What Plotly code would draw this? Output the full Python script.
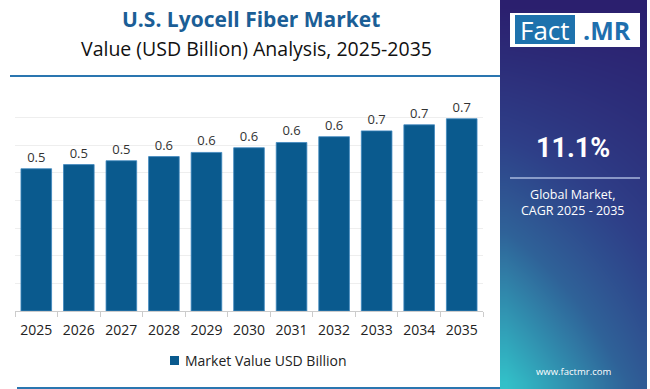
import plotly.graph_objects as go

years = ["2025", "2026", "2027", "2028", "2029", "2030", "2031", "2032", "2033", "2034", "2035"]
values = [0.515, 0.530, 0.544, 0.559, 0.574, 0.591, 0.610, 0.631, 0.652, 0.674, 0.696]
labels = ["0.5", "0.5", "0.5", "0.6", "0.6", "0.6", "0.6", "0.6", "0.7", "0.7", "0.7"]
series_name = "Market Value USD Billion"
title = "U.S. Lyocell Fiber Market"
subtitle = "Value (USD Billion) Analysis, 2025-2035"
cagr = "11.1%"

W, H = 650, 389
FONT = "Open Sans"
BAR = "#0a5a8e"


def px(x):
    return x / W


def py(y):
    return 1 - y / H


fig = go.Figure()

fig.add_trace(go.Bar(
    x=years, y=values, name=series_name,
    marker=dict(color=BAR, line=dict(color="#3f88bf", width=0.8)),
    width=0.72,
    text=labels, textposition="outside",
    textfont=dict(family=FONT, size=13, color="#333333"),
    cliponaxis=False, hoverinfo="skip", showlegend=False,
))

# decorative gradient panel on the right
nx, ny = 12, 30
z = []
for j in range(ny):
    yb = 1 - j / (ny - 1)
    row = []
    for i in range(nx):
        xn = i / (nx - 1)
        row.append(yb * (1 - 0.45 * xn))
    z.append(row)
fig.add_trace(go.Heatmap(
    z=z, xaxis="x2", yaxis="y2", zsmooth="best", showscale=False,
    colorscale=[[0, "#2b1f6e"], [0.35, "#2e3f88"], [0.6, "#2f6298"], [1, "#32c0c8"]],
    zmin=0, zmax=1, hoverinfo="skip", showlegend=False,
))

fig.update_layout(
    width=W, height=H,
    margin=dict(l=0, r=0, t=0, b=0),
    paper_bgcolor="white", plot_bgcolor="white",
    font=dict(family=FONT, color="#222222"),
    showlegend=False,
    xaxis=dict(
        domain=[px(15), px(483)], type="category",
        showline=True, linecolor="#cccccc", linewidth=1,
        ticks="outside", tickson="boundaries", ticklen=5, tickcolor="#cccccc",
        tickfont=dict(family=FONT, size=14, color="#222222"),
        ticklabelstandoff=6,
        showgrid=False, automargin=False, fixedrange=True,
    ),
    yaxis=dict(
        domain=[py(311), py(90)], range=[0, 0.8], dtick=0.1,
        showticklabels=False, showgrid=True, gridcolor="#eeeeee", gridwidth=1,
        zeroline=False, automargin=False, fixedrange=True,
    ),
    xaxis2=dict(domain=[px(500), px(647)], visible=False, range=[-0.5, nx - 0.5], fixedrange=True, anchor="y2"),
    yaxis2=dict(domain=[0, 1], visible=False, range=[-0.5, ny - 0.5], fixedrange=True, anchor="x2"),
)

shapes = []
shapes.append(dict(type="line", xref="paper", yref="paper", x0=px(10), x1=px(500), y0=py(76), y1=py(76),
                   line=dict(color="#2a76b0", width=2)))
shapes.append(dict(type="line", xref="paper", yref="paper", x0=px(17), x1=px(500), y0=py(388), y1=py(388),
                   line=dict(color="#2a76b0", width=2)))
shapes.append(dict(type="rect", xref="paper", yref="paper", x0=px(510), x1=px(640), y0=py(13), y1=py(47),
                   fillcolor="white", line=dict(width=0), layer="above"))
shapes.append(dict(type="rect", xref="paper", yref="paper", x0=px(515), x1=px(575), y0=py(15), y1=py(44),
                   fillcolor="#1e72ad", line=dict(width=0), layer="above"))
shapes.append(dict(type="line", xref="paper", yref="paper", x0=px(510), x1=px(640), y0=py(178), y1=py(178),
                   line=dict(color="rgba(190,205,235,0.85)", width=1.5), layer="above"))
shapes.append(dict(type="rect", xref="paper", yref="paper", x0=px(170), x1=px(179), y0=py(356), y1=py(365),
                   fillcolor=BAR, line=dict(width=0)))
fig.update_layout(shapes=shapes)

ann = [
    dict(text="<b>" + title + "</b>", x=px(251), y=py(19), font=dict(family=FONT, size=21, color="#1b5e96")),
    dict(text=subtitle, x=px(256), y=py(48), font=dict(family=FONT, size=19.5, color="#111111")),
    dict(text="Fact", x=px(545), y=py(30), font=dict(family=FONT, size=26, color="white")),
    dict(text="<b>.MR</b>", x=px(607), y=py(30), font=dict(family=FONT, size=25, color="#1e6fae")),
    dict(text="<b>" + cagr + "</b>", x=px(573), y=py(148), font=dict(family="Roboto", size=27, color="white")),
    dict(text="Global Market,<br>CAGR 2025 - 2035", x=px(573), y=py(202),
         font=dict(family=FONT, size=12.5, color="white")),
    dict(text="www.factmr.com", x=px(573), y=py(371), font=dict(family=FONT, size=9.5, color="white")),
    dict(text=series_name, x=px(183), y=py(360), xanchor="left",
         font=dict(family=FONT, size=14, color="#222222")),
]
for a in ann:
    a.setdefault("xanchor", "center")
    a.update(xref="paper", yref="paper", showarrow=False, yanchor="middle")
fig.update_layout(annotations=ann)

fig.write_html("out.html", config={"displayModeBar": False},
               post_script="document.body.style.margin='0';document.body.style.overflow='hidden';")
